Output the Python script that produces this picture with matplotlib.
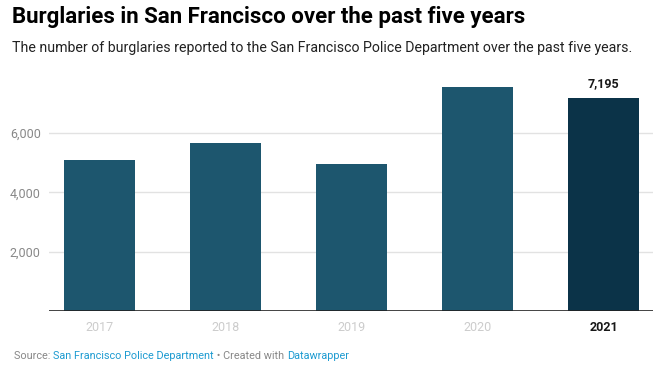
#!/usr/bin/env python3

import matplotlib.pyplot as plt

# Burglaries reported per year
years = ["2017", "2018", "2019", "2020", "2021"]
burglaries = [5085, 5665, 4950, 7555, 7195]
y_ticks = [2000, 4000, 6000]
y_tick_labels = ["2,000", "4,000", "6,000"]

# Footer pieces: (text, colour); the links are blue
footer_parts = [("Source: ", "#888888"), ("San Francisco Police Department", "#1d9bd1"),
				(" \u2022 Created with ", "#888888"), ("Datawrapper", "#1d9bd1")]

plt.rcParams["font.family"] = ["Roboto", "DejaVu Sans"]

fig = plt.figure(figsize=(6.67, 3.72), dpi=100)
ax = fig.add_axes([0.0735, 0.164, 0.9055, 0.638])

# Last year is highlighted in a darker shade
colors = ["#1d566e"] * (len(years) - 1) + ["#0b3348"]
x = list(range(len(years)))
ax.bar(x, burglaries, width=0.563, color=colors, zorder=2)

ax.set_xlim(-0.40, 4.39)
ax.set_ylim(0, 8000)

# Gridlines and baseline
for t in y_ticks:
	ax.axhline(t, color="#e2e2e2", lw=1, zorder=1)
ax.axhline(0, color="#222222", lw=1.2, zorder=3)

for s in ax.spines.values():
	s.set_visible(False)

ax.set_yticks(y_ticks)
ax.set_yticklabels(y_tick_labels, fontsize=9, color="#888888")
ax.tick_params(axis="y", length=0, pad=6)

ax.set_xticks(x)
ax.set_xticklabels(years, fontsize=9)
ax.tick_params(axis="x", length=0, pad=7)
for lbl in ax.get_xticklabels()[:-1]:
	lbl.set_color("#cccccc")
last = ax.get_xticklabels()[-1]
last.set_color("#181818")
last.set_fontweight("bold")

# Value label on the highlighted bar
ax.annotate(f"{burglaries[-1]:,}", (x[-1], burglaries[-1]), xytext=(0, 5),
			textcoords="offset points", ha="center", va="bottom",
			fontsize=9, fontweight="bold", color="#181818")

# Title and subtitle
fig.text(0.018, 0.953, "Burglaries in San Francisco over the past five years",
		 fontsize=16, fontweight="bold", color="#000000", va="center")
fig.text(0.018, 0.872, "The number of burglaries reported to the San Francisco Police Department over the past five years.",
		 fontsize=10.2, color="#222222", va="center")

# Footer: chain each piece onto the end of the previous one
prev = fig.text(0.021, 0.03, footer_parts[0][0], fontsize=7.8,
				color=footer_parts[0][1], va="bottom")
for txt, col in footer_parts[1:]:
	prev = ax.annotate(txt, xy=(1, 0), xycoords=prev, va="bottom", ha="left",
					   fontsize=7.8, color=col, annotation_clip=False)

fig.savefig("out.png", dpi=100, facecolor="white")
